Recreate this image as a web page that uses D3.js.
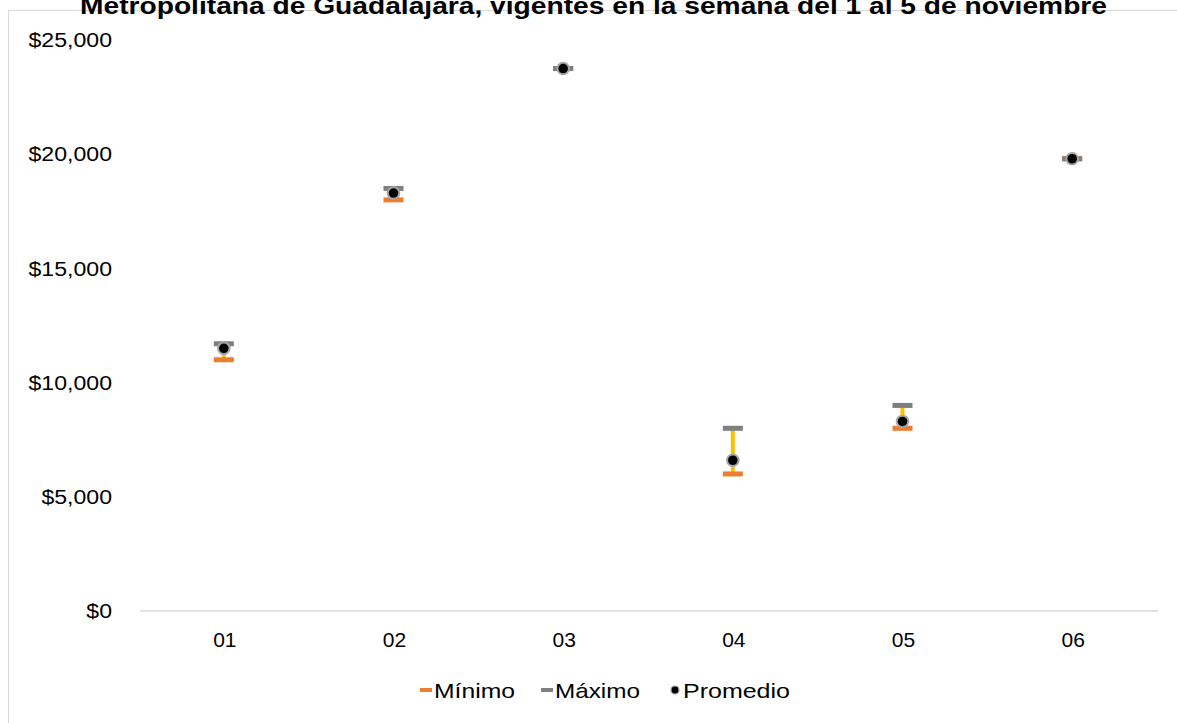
<!DOCTYPE html>
<html><head><meta charset="utf-8">
<script src="https://cdn.jsdelivr.net/npm/d3@7"></script>
<style>body{margin:0;background:#fff;}svg{display:block;font-family:"Liberation Sans",Arial,sans-serif;}</style>
</head><body>
<svg id="c" width="1177" height="723"></svg>
<script>
const categories = ["01","02","03","04","05","06"];
const minimo   = [11000, 18000, 23750, 6000, 8000, 19800];
const maximo   = [11700, 18500, 23750, 8000, 9000, 19800];
const promedio = [11500, 18300, 23750, 6600, 8300, 19800];
const yTicks = [0, 5000, 10000, 15000, 20000, 25000];
const title = "Metropolitana de Guadalajara, vigentes en la semana del 1 al 5 de noviembre";
const legendLabels = ["Mínimo", "Máximo", "Promedio"];

const svg = d3.select("#c");
svg.append("rect").attr("x",8.5).attr("y",10.5).attr("width",1200).attr("height",800)
  .attr("fill","#fff").attr("stroke","#D9D9D9").attr("stroke-width",1);

svg.append("text").attr("x",80).attr("y",14)
  .attr("font-weight","bold").attr("font-size",23).attr("fill","#000")
  .attr("textLength",1027).attr("lengthAdjust","spacingAndGlyphs").text(title);

const x = d3.scaleBand().domain(categories).range([140,1158]);
const y = d3.scaleLinear().domain([0,25000]).range([611,40]);

// axis line
svg.append("line").attr("x1",140).attr("x2",1158).attr("y1",y(0)).attr("y2",y(0))
  .attr("stroke","#D9D9D9").attr("stroke-width",1.5);

const fmt = d => "$" + d3.format(",")(d);
const yAxis = d3.axisLeft(y).tickValues(yTicks).tickFormat(fmt).tickSize(0).tickPadding(0);
const gy = svg.append("g").attr("transform","translate(112,0)").call(yAxis);
gy.select(".domain").remove();
gy.selectAll("text").attr("font-size",21).attr("fill","#000")
  .attr("font-family","Liberation Sans, Arial, sans-serif")
  .attr("transform","scale(1.1,1)");

const xAxis = d3.axisBottom(x).tickSize(0).tickPadding(0);
const gx = svg.append("g").attr("transform",`translate(0,${y(0)})`).call(xAxis);
gx.select(".domain").remove();
gx.selectAll("text").attr("font-size",21).attr("fill","#000")
  .attr("font-family","Liberation Sans, Arial, sans-serif")
  .attr("dy",null).attr("y",36);

const cx = c => x(c) + x.bandwidth()/2 - 1;
const data = categories.map((c,i)=>({c, mn:minimo[i], mx:maximo[i], av:promedio[i]}));

// yellow connectors
svg.selectAll(".rng").data(data).enter().append("line")
  .attr("x1",d=>cx(d.c)).attr("x2",d=>cx(d.c))
  .attr("y1",d=>y(d.mn)).attr("y2",d=>y(d.mx))
  .attr("stroke","#FFC000").attr("stroke-width",4);

// min bars
svg.selectAll(".mn").data(data).enter().append("rect")
  .attr("x",d=>cx(d.c)-10).attr("y",d=>y(d.mn)-2.5).attr("width",20).attr("height",5)
  .attr("fill","#ED7D31");
// max bars
svg.selectAll(".mx").data(data).enter().append("rect")
  .attr("x",d=>cx(d.c)-10).attr("y",d=>y(d.mx)-2.5).attr("width",20).attr("height",5)
  .attr("fill","#7F7F7F");
// average dots
svg.selectAll(".av").data(data).enter().append("circle")
  .attr("cx",d=>cx(d.c)).attr("cy",d=>y(d.av)).attr("r",5.8)
  .attr("fill","#000").attr("stroke","#A6A6A6").attr("stroke-width",2);

// legend
const lg = svg.append("g").attr("font-size",21).attr("fill","#000");
lg.append("rect").attr("x",420).attr("y",688).attr("width",12).attr("height",4).attr("fill","#ED7D31");
lg.append("text").attr("x",434).attr("y",698).attr("textLength",81).attr("lengthAdjust","spacingAndGlyphs").text(legendLabels[0]);
lg.append("rect").attr("x",541).attr("y",688).attr("width",12).attr("height",4).attr("fill","#7F7F7F");
lg.append("text").attr("x",555).attr("y",698).attr("textLength",85).attr("lengthAdjust","spacingAndGlyphs").text(legendLabels[1]);
lg.append("circle").attr("cx",675).attr("cy",690).attr("r",4).attr("fill","#000").attr("stroke","#A6A6A6").attr("stroke-width",1.2);
lg.append("text").attr("x",683).attr("y",698).attr("textLength",107).attr("lengthAdjust","spacingAndGlyphs").text(legendLabels[2]);
</script>
</body></html>
